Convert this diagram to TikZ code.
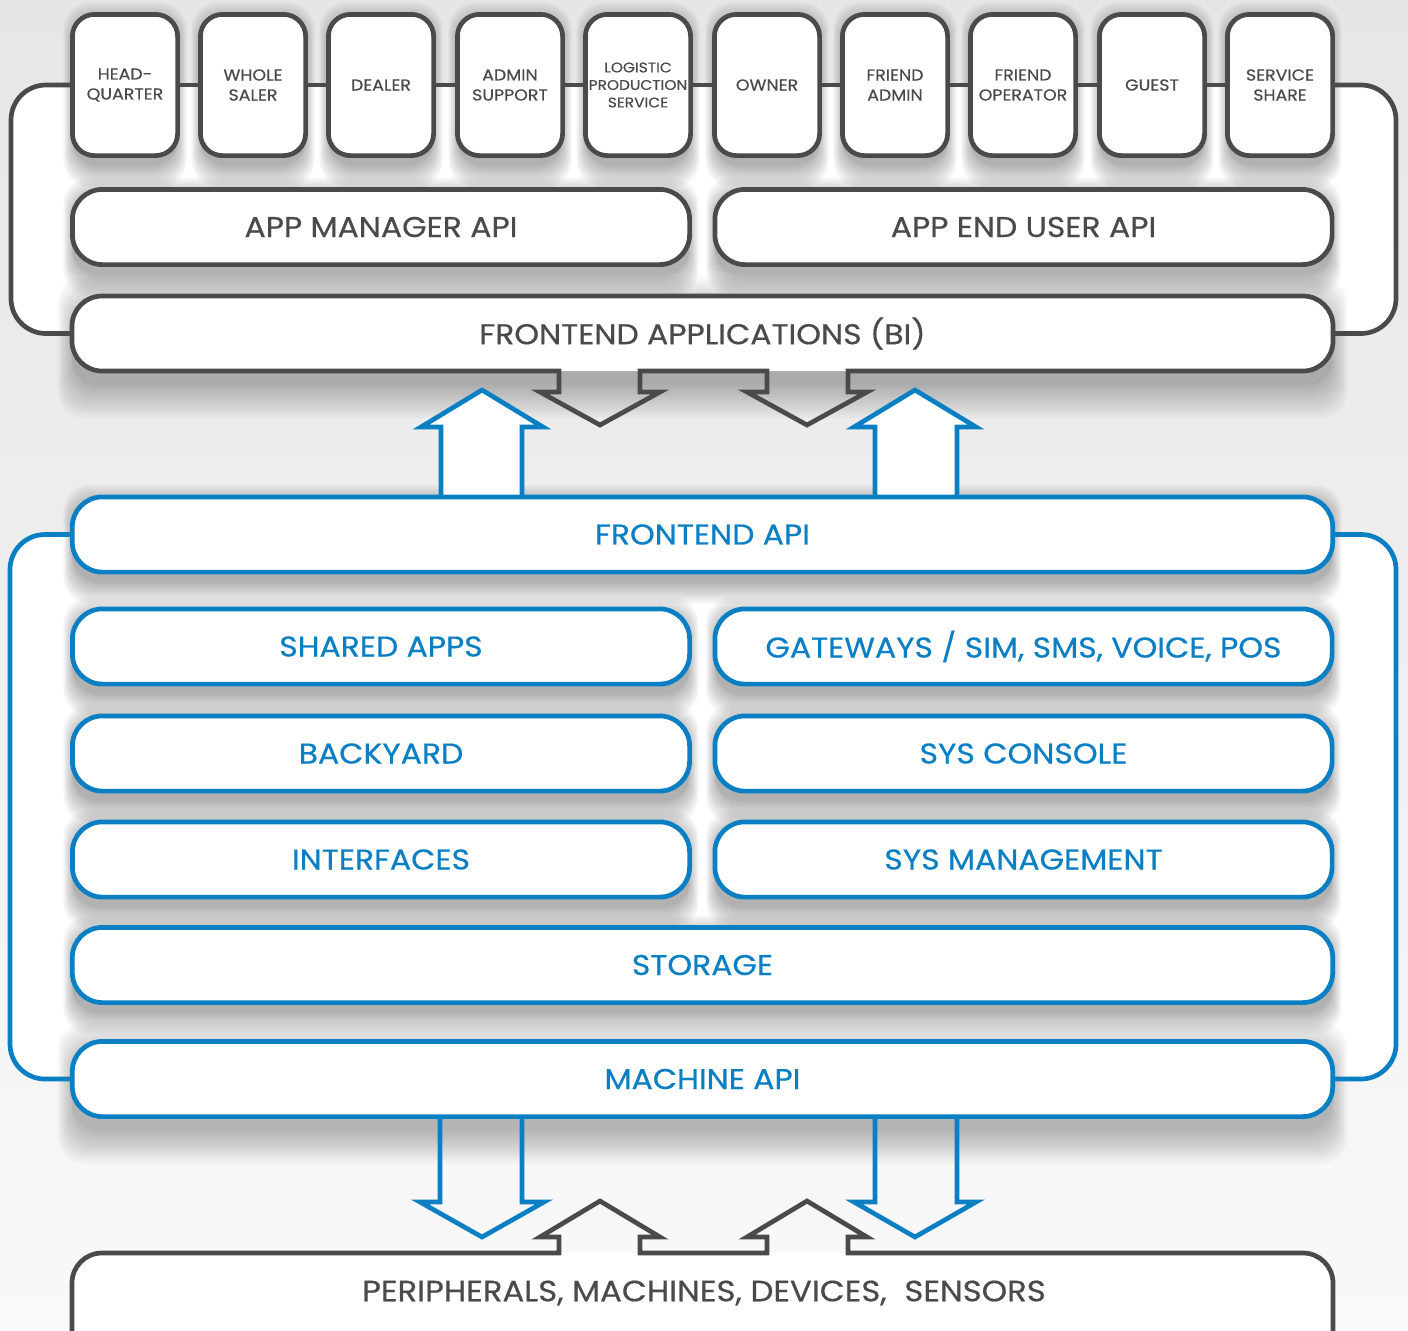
\documentclass[tikz,border=0pt]{standalone}
\usepackage{fontspec}
\setmainfont{Poppins}[FakeBold=0.5, FakeStretch=1.1]
\definecolor{dg}{HTML}{4A4A4A}
\definecolor{bl}{HTML}{0A7FC4}
\definecolor{bgtop}{HTML}{E6E6E6}
\definecolor{bgmid}{HTML}{F2F2F2}
\definecolor{bgbot}{HTML}{F9F9F9}
\pgfdeclarelayer{bg}
\pgfdeclarelayer{shadow}
\pgfsetlayers{bg,shadow,main}
\tikzset{
  lw/.style={line width=2.35pt},
  role/.style={draw=dg, lw, fill=white, rounded corners=11pt, minimum width=52.6pt, minimum height=70.6pt, inner sep=0pt, outer sep=0pt, align=center, text=dg, font=\fontsize{7.9}{10}\selectfont},
  gbox/.style={draw=dg, lw, fill=white, rounded corners=15pt, minimum height=37.6pt, inner sep=0pt, outer sep=0pt, text=dg, font=\fontsize{14.3}{17}\selectfont},
  bbox/.style={gbox, draw=bl, text=bl},
  halfw/.style={minimum width=308.6pt},
  fullw/.style={minimum width=630.2pt},
  gline/.style={draw=dg, lw, line join=miter},
  bline/.style={draw=bl, lw, line join=miter},
}
% soft drop shadow: node, offset (px), spread (px), opacity of one layer
\newcommand\dropshadow[4]{%
  \begin{pgfonlayer}{shadow}
  \foreach \k in {1,...,12}{%
    \pgfmathsetmacro\ev{#3*(1-\k/12)*0.5}%
    \pgfmathsetmacro\eh{max(0.5*\ev-1,0)}%
    \pgfmathsetmacro\off{#2*0.5}%
    \pgfmathsetmacro\ya{\ev-\off}%
    \pgfmathsetmacro\yb{-\ev-\off}%
    \fill[black, opacity=#4, rounded corners=13pt]
      ([xshift=-\eh pt, yshift=\ya pt]#1.north west) rectangle ([xshift=\eh pt, yshift=\yb pt]#1.south east);
  }%
  \end{pgfonlayer}}
\begin{document}
\begin{tikzpicture}[x=0.5pt,y=-0.5pt]
\useasboundingbox (0,0) rectangle (1408,1330);
\clip (0,0) rectangle (1408,1330);
\begin{pgfonlayer}{bg}
\shade[top color=bgtop, middle color=bgmid, bottom color=bgbot] (0,0) rectangle (1408,1330);
\fill[white, rounded corners=17.5pt] (11,85) rectangle (1396,333.5);
\fill[white, rounded corners=17.5pt] (10,534.5) rectangle (1396,1079);
\end{pgfonlayer}

% ---------- gray (frontend) section ----------
\node[role] (hq)  at (125,85)  {HEAD-\\QUARTER};
\node[role] (ws)  at (253,85)  {WHOLE\\SALER};
\node[role] (dl)  at (381,85)  {DEALER};
\node[role] (as)  at (510,85)  {ADMIN\\SUPPORT};
\node[role, font=\fontsize{7}{8.75}\selectfont] (lp) at (638,85) {LOGISTIC\\PRODUCTION\\SERVICE};
\node[role] (ow)  at (767,85)  {OWNER};
\node[role] (fad) at (895,85)  {FRIEND\\ADMIN};
\node[role] (fop) at (1023,85) {FRIEND\\OPERATOR};
\node[role] (gu)  at (1152,85) {GUEST};
\node[role] (ss)  at (1280,85) {SERVICE\\SHARE};

\draw[gline] (hq) -- (ws);
\draw[gline] (ws) -- (dl);
\draw[gline] (dl) -- (as);
\draw[gline] (as) -- (lp);
\draw[gline] (lp) -- (ow);
\draw[gline] (ow) -- (fad);
\draw[gline] (fad) -- (fop);
\draw[gline] (fop) -- (gu);
\draw[gline] (gu) -- (ss);

\node[gbox, halfw] (mgr) at (381,227)    {APP MANAGER API};
\node[gbox, halfw] (eu)  at (1023.5,227) {APP END USER API};
\node[gbox, fullw, draw=none] (fa) at (702.5,333.5) {FRONTEND APPLICATIONS (BI)};

% outline of frontend applications with the two down arrows
\draw[gline] (559,371) -- (559,392) -- (540,392) -- (600,425) -- (660,392) -- (640,392) -- (640,371)
  -- (767,371) -- (767,392) -- (747,392) -- (807,425) -- (867,392) -- (848,392) -- (848,371)
  -- (1303,371) arc[start angle=90, end angle=0, radius=30] -- (1333,326)
  arc[start angle=0, end angle=-90, radius=30] -- (102,296)
  arc[start angle=270, end angle=180, radius=30] -- (72,341)
  arc[start angle=180, end angle=90, radius=30] -- cycle;

\draw[gline, rounded corners=17.5pt] (hq.west) -- (11,85) -- (11,333.5) -- (fa.west);
\draw[gline, rounded corners=17.5pt] (ss.east) -- (1396,85) -- (1396,333.5) -- (fa.east);

% ---------- blue (backend) section ----------
\filldraw[bline, fill=white] (441,505) -- (441,427) -- (421,427) -- (482,390) -- (543,427) -- (522,427) -- (522,505);
\filldraw[bline, fill=white] (875,505) -- (875,427) -- (854,427) -- (915,390) -- (976,427) -- (957,427) -- (957,505);

\node[bbox, fullw] (fapi) at (702.5,534.5) {FRONTEND API};
\node[bbox, halfw] (sa)  at (381,646.5)    {SHARED APPS};
\node[bbox, halfw] (gw)  at (1023.5,646.5) {GATEWAYS / SIM, SMS, VOICE, POS};
\node[bbox, halfw] (by)  at (381,753.5)    {BACKYARD};
\node[bbox, halfw] (sc)  at (1023.5,753.5) {SYS CONSOLE};
\node[bbox, halfw] (itf) at (381,859.5)    {INTERFACES};
\node[bbox, halfw] (sm)  at (1023.5,859.5) {SYS MANAGEMENT};
\node[bbox, fullw] (st)  at (702.5,965)    {STORAGE};
\node[bbox, fullw] (ma)  at (702.5,1079)   {MACHINE API};

\draw[bline, rounded corners=17.5pt] (fapi.west) -- (10,534.5) -- (10,1079) -- (ma.west);
\draw[bline, rounded corners=17.5pt] (fapi.east) -- (1396,534.5) -- (1396,1079) -- (ma.east);

\draw[bline] (440,1117) -- (440,1202) -- (420,1202) -- (482,1237) -- (544,1202) -- (522,1202) -- (522,1117);
\draw[bline] (875,1117) -- (875,1202) -- (854,1202) -- (915,1237) -- (976,1202) -- (957,1202) -- (957,1117);

% ---------- peripherals ----------
\node[fill=white, draw=none, rounded corners=15pt, minimum width=630.2pt, minimum height=73.5pt, inner sep=0pt, outer sep=0pt] (per) at (702.5,1326.5) {};
\draw[gline] (72,1400) -- (72,1283) arc[start angle=180, end angle=270, radius=30]
  -- (559,1253) -- (559,1237) -- (540,1237) -- (600,1201) -- (660,1237) -- (640,1237) -- (640,1253)
  -- (767,1253) -- (767,1237) -- (747,1237) -- (807,1201) -- (867,1237) -- (848,1237) -- (848,1253)
  -- (1303,1253) arc[start angle=270, end angle=360, radius=30] -- (1333,1400);
\node[text=dg, font=\fontsize{14.7}{17}\selectfont, inner sep=0pt] (pert) at (704,1293) {PERIPHERALS, MACHINES, DEVICES,\hspace{0.6em}SENSORS};

% ---------- shadows ----------
\foreach \n in {hq,ws,dl,as,lp,ow,fad,fop,gu,ss,mgr,eu,fapi,sa,gw,by,sc,itf,sm,st}{\dropshadow{\n}{10}{24}{0.026}}
\dropshadow{fa}{14}{36}{0.024}
\dropshadow{ma}{14}{36}{0.022}
\end{tikzpicture}
\end{document}
